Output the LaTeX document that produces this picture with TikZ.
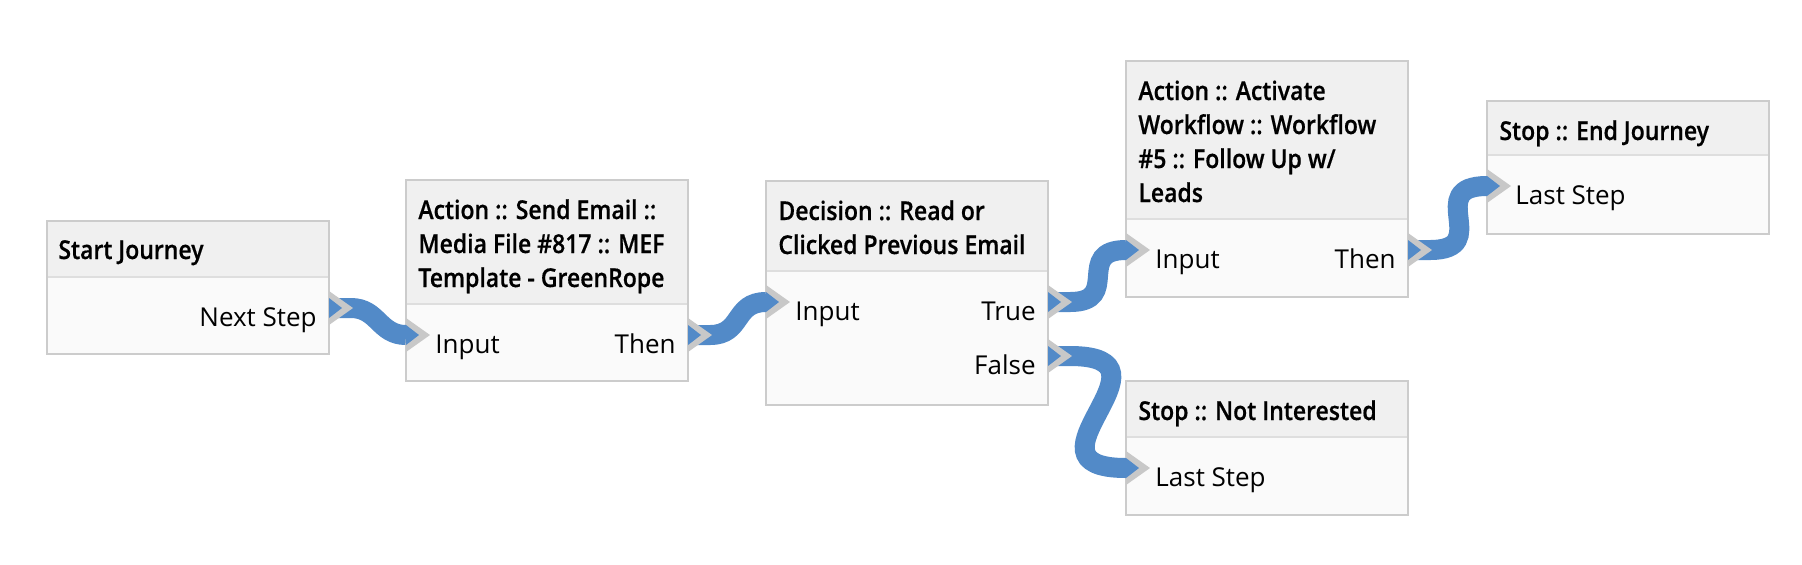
\documentclass[tikz,border=0pt]{standalone}
\usepackage{fontspec}
\setmainfont{Open Sans}
\newfontfamily\headfont{Open Sans}[UprightFont={* Semibold}, FakeStretch=0.885, FakeBold=0.5]
\definecolor{ribbonblue}{RGB}{82,138,200}
\definecolor{portgray}{RGB}{200,200,200}
\definecolor{boxline}{RGB}{204,204,204}
\definecolor{sepline}{RGB}{222,222,222}
\definecolor{headfill}{RGB}{240,240,240}
\definecolor{bodyfill}{RGB}{250,250,250}
\tikzset{
  boxbody/.style={rectangle, fill=bodyfill, draw=none, inner sep=0pt, outer sep=0pt},
  boxborder/.style={draw=boxline, line width=1pt},
  headtext/.style={anchor=base west, inner sep=0pt, font=\fontsize{13}{16}\selectfont\headfont},
  bodytextl/.style={anchor=base west, inner sep=0pt, font=\fontsize{13}{16}\selectfont},
  bodytextr/.style={anchor=base east, inner sep=0pt, font=\fontsize{13}{16}\selectfont},
  ribbonline/.style={draw=ribbonblue, line width=10pt},
}
\newcommand\flowbox[6]{% name, x1, y1, x2, y2, yh
  \node[boxbody, anchor=north west, minimum width={(#4-#2)*0.5pt}, minimum height={(#5-#3)*0.5pt}] (#1) at (#2,#3) {};
  \fill[headfill] (#2,#3) rectangle (#4,#6);
  \draw[sepline, line width=1pt] (#2,#6) -- (#4,#6);
  \draw[boxborder] (#2,#3) rectangle (#4,#5);
}
\newcommand\portmark[3]{% name, x, y
  \fill[portgray] (#2,#3-17) -- (#2+24,#3) -- (#2,#3+17) -- cycle;
  \fill[ribbonblue] (#2,#3-10) -- (#2+13,#3) -- (#2,#3+10) -- cycle;
}
\begin{document}
\begin{tikzpicture}[x=0.5pt,y=-0.5pt]
\useasboundingbox (0,0) rectangle (1802,564);
% boxes
\flowbox{start}{47}{221}{329}{354}{277}
\flowbox{email}{406}{180}{688}{381}{304}
\flowbox{decide}{766}{181}{1048}{405}{271}
\flowbox{workflow}{1126}{61}{1408}{297}{219}
\flowbox{endj}{1487}{101}{1769}{234}{155}
\flowbox{notint}{1126}{381}{1408}{515}{437}
% port coordinates
\coordinate (startout) at (329,308);
\coordinate (emailin) at (406,335);
\coordinate (emailout) at (688,335);
\coordinate (decidein) at (766,302);
\coordinate (decidetrue) at (1048,302);
\coordinate (decidefalse) at (1048,356);
\coordinate (workflowin) at (1126,250);
\coordinate (workflowout) at (1408,250);
\coordinate (endjin) at (1487,186);
\coordinate (notintin) at (1126,468);
% ribbons
\draw[ribbonline] (startout) -- ++(22,0) .. controls +(27,0) and +(-27,0) .. (emailin);
\draw[ribbonline] (emailout) -- ++(22,0) .. controls +(33,0) and +(-33,0) .. (decidein);
\draw[ribbonline] (decidetrue) -- ++(22,0) .. controls +(52,0) and +(-52,0) .. (workflowin);
\draw[ribbonline] (decidefalse) -- ++(22,0) .. controls +(115,0) and +(-115,0) .. (notintin);
\draw[ribbonline] (workflowout) -- ++(22,0) .. controls +(64,0) and +(-64,0) .. (endjin);
% ports
\portmark{p1}{329}{308}
\portmark{p2}{406}{335}
\portmark{p3}{688}{335}
\portmark{p4}{766}{302}
\portmark{p5}{1048}{302}
\portmark{p6}{1048}{356}
\portmark{p7}{1126}{250}
\portmark{p8}{1408}{250}
\portmark{p9}{1487}{186}
\portmark{p10}{1126}{468}
% texts
\node[headtext] (starth) at (58,259) {Start Journey};
\node[bodytextr] (startn) at (317,326) {Next Step};
\node[headtext] (emailh1) at (418,219) {Action :: Send Email ::};
\node[headtext] (emailh2) at (418,253) {Media File \#817 :: MEF};
\node[headtext] (emailh3) at (418,287) {Template - GreenRope};
\node[bodytextl] (emaili) at (435,353) {Input};
\node[bodytextr] (emailt) at (676,353) {Then};
\node[headtext] (decideh1) at (778,220) {Decision :: Read or};
\node[headtext] (decideh2) at (778,254) {Clicked Previous Email};
\node[bodytextl] (decidei) at (795,320) {Input};
\node[bodytextr] (decidet) at (1036,320) {True};
\node[bodytextr] (decidef) at (1036,374) {False};
\node[headtext] (workflowh1) at (1138,100) {Action :: Activate};
\node[headtext] (workflowh2) at (1138,134) {Workflow :: Workflow};
\node[headtext] (workflowh3) at (1138,168) {\#5 :: Follow Up w/};
\node[headtext] (workflowh4) at (1138,202) {Leads};
\node[bodytextl] (workflowi) at (1155,268) {Input};
\node[bodytextr] (workflowt) at (1396,268) {Then};
\node[headtext] (endjh) at (1499,140) {Stop :: End Journey};
\node[bodytextl] (endjl) at (1515,204) {Last Step};
\node[headtext] (notinth) at (1138,420) {Stop :: Not Interested};
\node[bodytextl] (notintl) at (1155,486) {Last Step};
\end{tikzpicture}
\end{document}
